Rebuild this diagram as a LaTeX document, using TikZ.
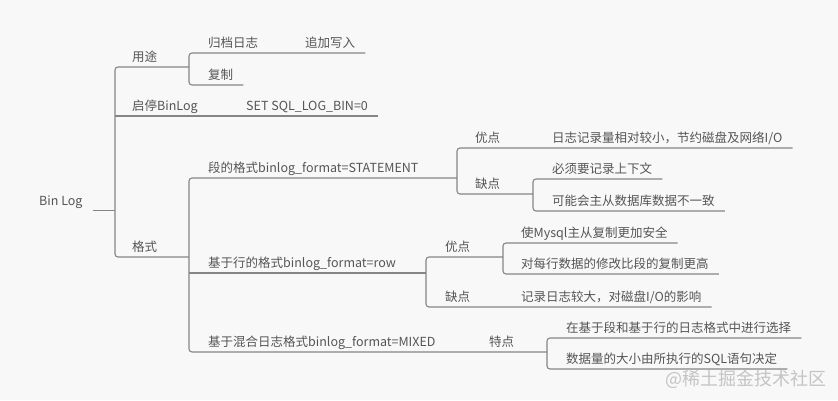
\documentclass[tikz,border=0pt]{standalone}
\usepackage{fontspec}
\setmainfont{Noto Sans CJK SC}
\usepackage{tikz}
\definecolor{txt}{HTML}{555555}
\definecolor{edge}{HTML}{858585}
\definecolor{paper}{HTML}{F8F8F8}
\definecolor{wm}{HTML}{C4C4C4}
\tikzstyle{topic} = [anchor=south west, inner xsep=0pt, inner ysep=2.5pt,
    text height=9pt, text depth=2.5pt, text=txt, font=\fontsize{12.5}{14}\selectfont]
\tikzstyle{line} = [draw=edge, line width=1.1pt, rounded corners=3pt]

\begin{document}
\begin{tikzpicture}[x=1pt, y=-1pt]
    \useasboundingbox [fill=paper] (0,0) rectangle (838,400);
    % Place nodes
    \node [topic] (root) at (39,210.7) {Bin Log};
    \node [topic] (use) at (132,67) {用途};
    \node [topic] (onoff) at (132,116) {启停BinLog};
    \node [topic] (fmt) at (132,257) {格式};
    \node [topic] (arch) at (208,53) {归档日志};
    \node [topic] (append) at (305,53) {追加写入};
    \node [topic] (repl) at (208,85) {复制};
    \node [topic] (setbin) at (246,116) {SET SQL\_LOG\_BIN=0};
    \node [topic] (stmt) at (208,178) {段的格式binlog\_format=STATEMENT};
    \node [topic] (stmtpro) at (475,148) {优点};
    \node [topic] (stmtpro1) at (552,148) {日志记录量相对较小，节约磁盘及网络I/O};
    \node [topic] (stmtcon) at (475,194) {缺点};
    \node [topic] (stmtcon1) at (552,179) {必须要记录上下文};
    \node [topic] (stmtcon2) at (552,211) {可能会主从数据库数据不一致};
    \node [topic] (row) at (208,273) {基于行的格式binlog\_format=row};
    \node [topic] (rowpro) at (445,257) {优点};
    \node [topic] (rowpro1) at (521,243) {使Mysql主从复制更加安全};
    \node [topic] (rowpro2) at (521,274) {对每行数据的修改比段的复制更高};
    \node [topic] (rowcon) at (445,307) {缺点};
    \node [topic] (rowcon1) at (521,307) {记录日志较大，对磁盘I/O的影响};
    \node [topic] (mixed) at (208,352) {基于混合日志格式binlog\_format=MIXED};
    \node [topic] (mixfeat) at (489,352) {特点};
    \node [topic] (mixfeat1) at (566,338) {在基于段和基于行的日志格式中进行选择};
    \node [topic] (mixfeat2) at (566,369) {数据量的大小由所执行的SQL语句决定};
    \node [anchor=west, inner sep=0pt, text=wm, font=\fontsize{18}{20}\selectfont] (mark) at (665,379) {@稀土掘金技术社区};
    % Branch points
    \coordinate (b0) at (115,0);
    \coordinate (b1) at (189,0);
    \coordinate (b3) at (457,0);
    \coordinate (b4) at (533,0);
    \coordinate (b5) at (426,0);
    \coordinate (b6) at (503,0);
    \coordinate (b7) at (547,0);
    % Draw edges
    \path [line] ([xshift=10pt]root.south east) -- (b0 |- root.south);
    \path [line] (b1 |- use.south) -- (b0 |- use.south) -- (b0 |- fmt.south) -- (b1 |- fmt.south);
    \path [line] (b0 |- onoff.south) -- ([xshift=10pt]setbin.south east);
    \path [line] ([xshift=10pt]append.south east) -- (b1 |- arch.south) -- (b1 |- repl.south) -- ([xshift=10pt]repl.south east);
    \path [line] (b3 |- stmt.south) -- (b1 |- stmt.south) -- (b1 |- mixed.south) -- (b7 |- mixed.south);
    \path [line] (b1 |- row.south) -- (b5 |- row.south);
    \path [line] ([xshift=10pt]stmtpro1.south east) -- (b3 |- stmtpro.south) -- (b3 |- stmtcon.south) -- (b4 |- stmtcon.south);
    \path [line] ([xshift=10pt]stmtcon1.south east) -- (b4 |- stmtcon1.south) -- (b4 |- stmtcon2.south) -- ([xshift=10pt]stmtcon2.south east);
    \path [line] (b6 |- rowpro.south) -- (b5 |- rowpro.south) -- (b5 |- rowcon.south) -- ([xshift=10pt]rowcon1.south east);
    \path [line] ([xshift=10pt]rowpro1.south east) -- (b6 |- rowpro1.south) -- (b6 |- rowpro2.south) -- ([xshift=10pt]rowpro2.south east);
    \path [line] ([xshift=10pt]mixfeat1.south east) -- (b7 |- mixfeat1.south) -- (b7 |- mixfeat2.south) -- ([xshift=10pt]mixfeat2.south east);
\end{tikzpicture}
\end{document}
